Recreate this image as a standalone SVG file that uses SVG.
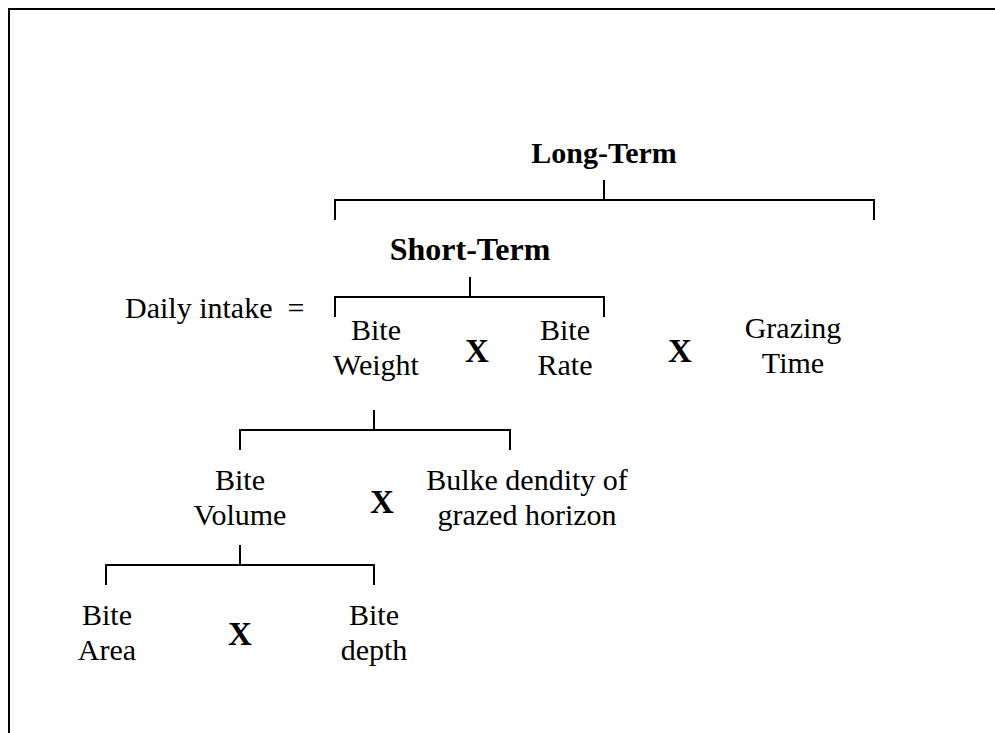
<svg xmlns="http://www.w3.org/2000/svg" width="995" height="733" viewBox="0 0 995 733">
<style>
text{font-family:"Liberation Serif","Times New Roman",serif;fill:#000;text-anchor:middle}
.t{font-size:30px}
.b{font-size:30px;font-weight:bold}
.x{font-size:33px;font-weight:bold}
.ln{stroke:#000;stroke-width:2;fill:none}
</style>
<rect width="995" height="733" fill="#fff"/>
<path class="ln" d="M9,733 V9 H995" stroke-width="2.5"/>
<g id="connectors">
<path class="ln" d="M604,180 V200 M335,220 V200 H874 V220"/>
<path class="ln" d="M470,277 V297 M335,317 V297 H604 V317"/>
<path class="ln" d="M374,410 V430 M240,450 V430 H510 V450"/>
<path class="ln" d="M240,545 V565 M106,585 V565 H374 V585"/>
</g>
<g id="long-term"><text class="b" x="604" y="163">Long-Term</text></g>
<g id="short-term"><text class="b" x="470" y="260" style="font-size:32px">Short-Term</text></g>
<g id="daily-intake"><text class="t" x="125" y="318" style="text-anchor:start" xml:space="preserve">Daily intake  =</text></g>
<g id="bite-weight"><text class="t" x="376" y="340">Bite</text><text class="t" x="376" y="375">Weight</text></g>
<g id="x1"><text class="x" x="477" y="362">X</text></g>
<g id="bite-rate"><text class="t" x="565" y="340">Bite</text><text class="t" x="565" y="375">Rate</text></g>
<g id="x2"><text class="x" x="680" y="362">X</text></g>
<g id="grazing-time"><text class="t" x="793" y="338">Grazing</text><text class="t" x="793" y="373">Time</text></g>
<g id="bite-volume"><text class="t" x="240" y="490">Bite</text><text class="t" x="240" y="525">Volume</text></g>
<g id="x3"><text class="x" x="382" y="513">X</text></g>
<g id="bulk-density"><text class="t" x="527" y="490">Bulke dendity of</text><text class="t" x="527" y="525">grazed horizon</text></g>
<g id="bite-area"><text class="t" x="107" y="625">Bite</text><text class="t" x="107" y="660">Area</text></g>
<g id="x4"><text class="x" x="240" y="645">X</text></g>
<g id="bite-depth"><text class="t" x="374" y="625">Bite</text><text class="t" x="374" y="660">depth</text></g>
</svg>
